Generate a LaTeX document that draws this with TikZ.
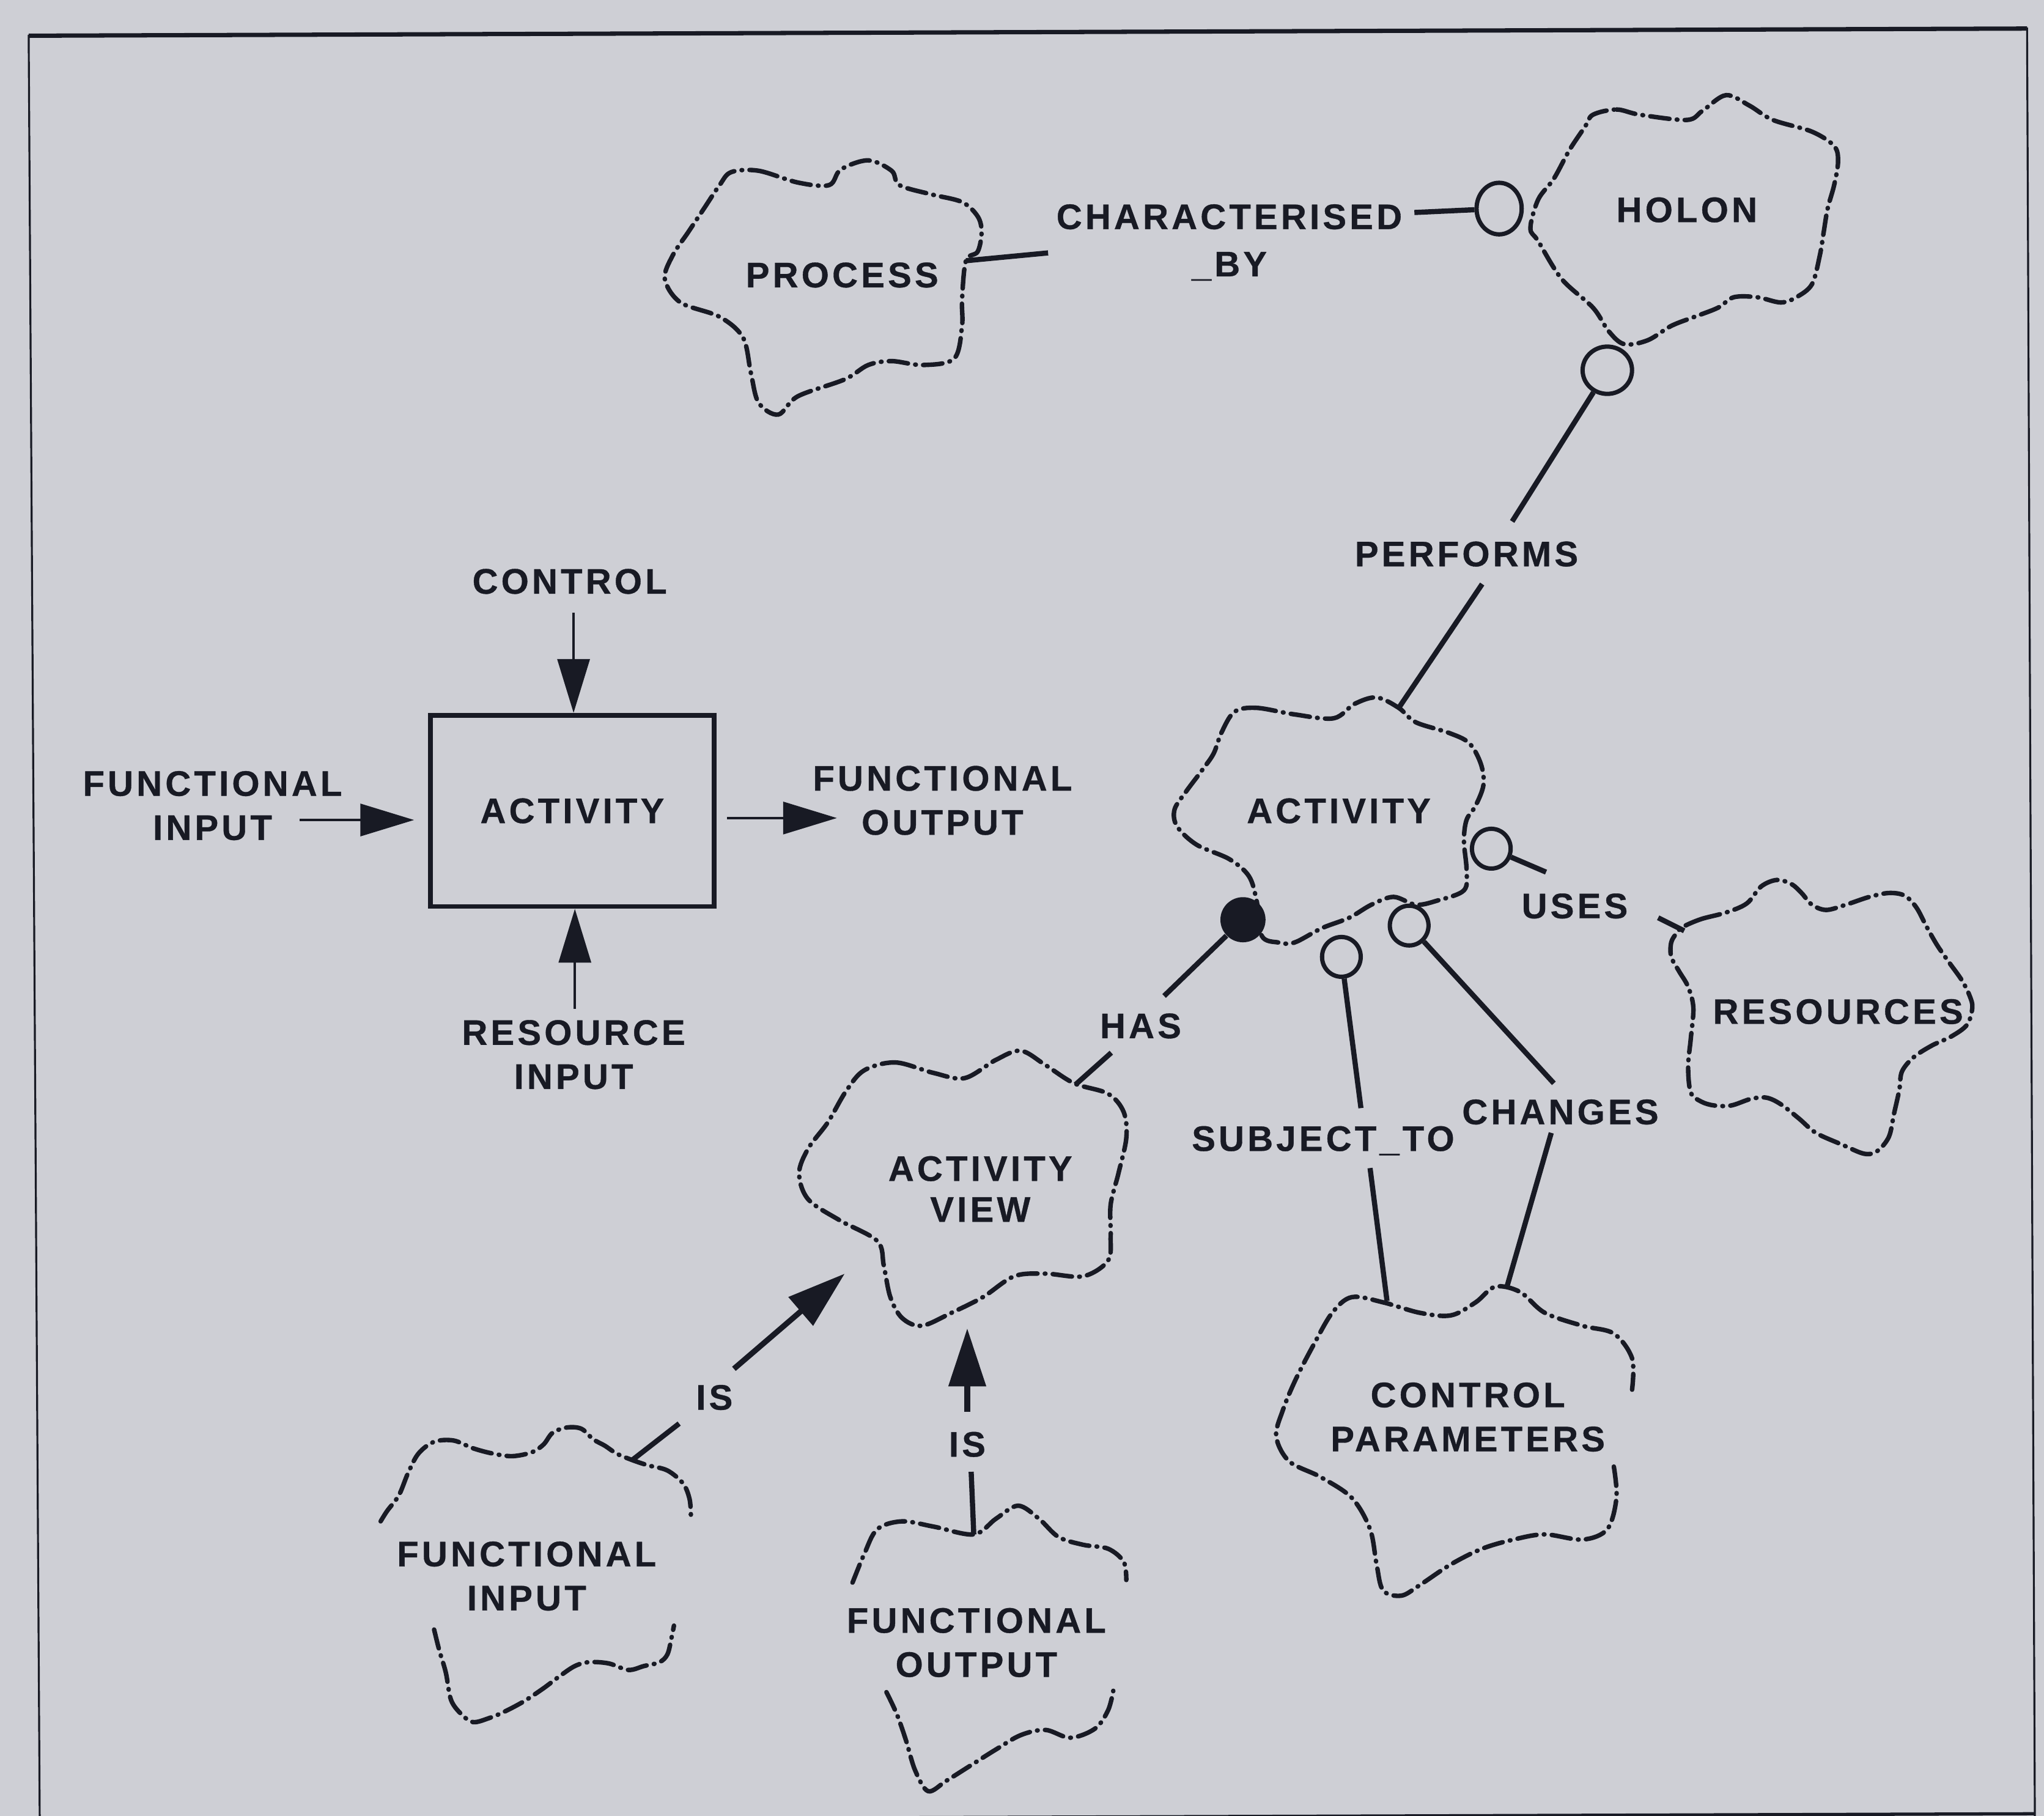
\documentclass[tikz,border=0pt]{standalone}
\usepackage{fontspec}
\setmainfont{Liberation Sans}[LetterSpace=9, BoldFeatures={FakeBold=0.6}]
\usetikzlibrary{arrows.meta,shapes.geometric}
\definecolor{paper}{RGB}{206,207,213}
\definecolor{ink}{RGB}{24,26,36}

\begin{document}
\begin{tikzpicture}[x=0.02132cm,y=-0.02132cm,
  lbl/.style={font=\fontsize{16.5}{20.5}\selectfont\bfseries, text=ink, inner sep=1pt, align=center},
  cloudline/.style={draw=ink, line width=2.1pt, dash pattern=on 9pt off 3.4pt on 0.3pt off 3.4pt, line cap=round, line join=round},
  rel/.style={draw=ink, line width=2.4pt},
  opencirc/.style={ellipse, draw=ink, line width=2pt, inner sep=0pt, fill=paper},
  smallcirc/.style={opencirc, minimum width=18pt, minimum height=18.5pt},
  blackdot/.style={circle, fill=ink, inner sep=0pt, minimum size=21pt},
  idefarrow/.style={draw=ink, line width=1.1pt, -{Triangle[length=25pt,width=15pt]}},
  isarrow/.style={draw=ink, line width=2.6pt, -{Triangle[length=27pt,width=17pt]}},
  idefbox/.style={draw=ink, line width=2.2pt, minimum width=132pt, minimum height=89pt, inner sep=0pt}
]
% page and frame
\fill[paper] (0,0) rectangle (1568,1393);
\useasboundingbox (0,0) rectangle (1568,1393);
\draw[ink, line width=0.9pt] (30.5,1400) -- (22,27.4) -- (1555,21.9) -- (1561,1400);
\draw[ink, line width=2pt] (22,27.4) -- (1555,21.9);
\draw[ink, line width=1.5pt] (30.5,1396.6) -- (1561,1391.3);

% ---------- IDEF0 activity box ----------
\node[idefbox, lbl] (box) at (439,622) {ACTIVITY};
\node[lbl] (ctrl) at (437,446) {CONTROL};
\node[lbl] (fin) at (163,618) {FUNCTIONAL\\INPUT};
\node[lbl] (fout) at (723,614) {FUNCTIONAL\\OUTPUT};
\node[lbl] (rin) at (440,809) {RESOURCE\\INPUT};
\coordinate (ctrlS) at (440,470);
\coordinate (finE) at (230,629);
\coordinate (foutW) at (642,627.5);
\coordinate (rinN) at (441,774);
\draw[idefarrow] (ctrlS) -- (box.north -| ctrlS);
\draw[idefarrow] (rinN) -- (box.south -| rinN);
\draw[idefarrow, shorten >=6.5pt] (finE) -- (box.west |- finE);
\draw[idefarrow, shorten <=5pt] (box.east |- foutW) -- (foutW);

% ---------- entity outlines ----------
% process
\draw[cloudline] plot[smooth cycle, tension=0.55] coordinates {
 (561,132) (582,131) (612,140) (636,142) (645,130) (666,123) (684,131) (690,142)
 (714,149) (738,155) (750,166) (753,178) (750,193) (741,200) (738,230) (738,250)
 (732,275) (708,280) (684,277) (666,280) (648,291) (612,304) (597,318) (582,309)
 (576,286) (570,259) (552,243) (522,232) (510,214) (516,196) (528,178) (540,160) (552,142)};
\node[lbl] (process) at (646,211) {PROCESS};

% holon
\draw[cloudline] plot[smooth cycle, tension=0.55] coordinates {
 (1222,88) (1240,84) (1258,88) (1294,92) (1306,85) (1324,73) (1342,81) (1360,92)
 (1390,101) (1407,112) (1410,124) (1407,142) (1402,160) (1399,178) (1396,196)
 (1390,218) (1378,228) (1366,232) (1348,228) (1330,228) (1318,236) (1300,243)
 (1282,250) (1264,261) (1246,264) (1234,254) (1222,236) (1198,214) (1180,185)
 (1174,175) (1180,153) (1192,137) (1204,115) (1216,97)};
\node[lbl] (holon) at (1294,161) {HOLON};

% activity
\draw[cloudline] plot[smooth cycle, tension=0.55] coordinates {
 (947,546) (964,543) (993,548) (1023,551) (1039,540) (1056,535) (1073,543) (1086,554)
 (1111,562) (1127,570) (1136,586) (1138,602) (1132,618) (1125,629) (1123,645)
 (1125,667) (1123,683) (1102,691) (1086,694) (1069,688) (1052,694) (1035,704)
 (1014,712) (993,723) (981,723) (968,718) (964,691) (958,672) (943,659) (918,648)
 (903,634) (901,621) (910,607) (922,591) (931,578) (937,562)};
\node[lbl] (activity) at (1027,622) {ACTIVITY};

% resources
\draw[cloudline] plot[smooth cycle, tension=0.55] coordinates {
 (1291,711) (1305,705) (1324,700) (1340,693) (1351,680) (1363,675) (1374,678)
 (1382,685) (1390,694) (1401,698) (1416,694) (1434,688) (1449,685) (1461,687)
 (1470,696) (1478,711) (1486,725) (1495,738) (1505,752) (1511,764) (1513,773)
 (1509,786) (1497,795) (1482,802) (1468,811) (1459,822) (1457,836) (1453,854)
 (1449,872) (1440,883) (1430,885) (1413,878) (1393,869) (1380,858) (1366,847)
 (1355,842) (1343,843) (1328,848) (1315,848) (1305,845) (1297,838) (1295,818)
 (1297,797) (1299,773) (1295,757) (1288,745) (1282,734) (1282,723) (1286,716)};
\node[lbl] (resources) at (1410,776) {RESOURCES};

% activity view
\draw[cloudline] plot[smooth cycle, tension=0.55] coordinates {
 (663,821) (687,815) (716,823) (740,827) (764,813) (783,806) (802,817) (824,831)
 (850,839) (862,853) (864,873) (858,900) (852,924) (852,948) (850,967) (831,979)
 (802,977) (778,979) (754,995) (730,1007) (707,1017) (692,1011) (683,995)
 (678,971) (673,952) (644,936) (620,920) (613,900) (620,881) (635,861) (649,837)};
\node[lbl, font=\fontsize{16.5}{19}\selectfont\bfseries] (actview) at (752,912) {ACTIVITY\\VIEW};

% control parameters (outline broken beside the text)
\draw[cloudline] plot[smooth, tension=0.55] coordinates {
 (1238,1125) (1240,1149) (1233,1173) (1214,1181) (1185,1177) (1161,1181) (1137,1188)
 (1113,1200) (1089,1216) (1075,1224) (1061,1220) (1056,1200) (1051,1173) (1037,1149)
 (1013,1133) (989,1121) (979,1102) (984,1082) (994,1058) (1008,1031) (1022,1007)
 (1037,995) (1061,999) (1089,1007) (1113,1009) (1132,999) (1147,987) (1166,991)
 (1185,1007) (1214,1017) (1238,1023) (1252,1042) (1252,1066)};
\node[lbl] (ctrlpar) at (1126,1087) {CONTROL\\PARAMETERS};

% functional input (open outline)
\draw[cloudline] plot[smooth, tension=0.55] coordinates {
 (292,1167) (297,1159) (306,1147) (313,1130) (321,1115) (333,1106) (348,1105)
 (363,1111) (378,1115) (393,1117) (408,1114) (417,1108) (424,1099) (435,1095)
 (446,1096) (455,1104) (464,1109) (473,1115) (485,1120) (497,1124) (512,1128)
 (524,1138) (529,1150) (530,1163)};
\draw[cloudline] plot[smooth, tension=0.55] coordinates {
 (333,1250) (337,1266) (342,1283) (346,1304) (354,1315) (363,1321) (375,1318)
 (387,1313) (402,1305) (417,1295) (429,1286) (441,1278) (452,1275) (467,1276)
 (482,1281) (494,1278) (506,1275) (512,1269) (515,1257) (517,1247)};
\node[lbl] (funcin) at (404,1209) {FUNCTIONAL\\INPUT};

% functional output (open outline)
\draw[cloudline] plot[smooth, tension=0.55] coordinates {
 (654,1214) (663,1192) (673,1173) (692,1167) (716,1171) (747,1177) (764,1165)
 (781,1155) (797,1165) (812,1179) (831,1185) (850,1188) (862,1198) (864,1212)};
\draw[cloudline] plot[smooth, tension=0.55] coordinates {
 (680,1298) (688,1315) (695,1335) (702,1358) (712,1374) (726,1366) (745,1354)
 (764,1342) (783,1331) (802,1327) (821,1333) (840,1326) (850,1312) (854,1297)};
\node[lbl] (funcout) at (749,1260) {FUNCTIONAL\\OUTPUT};

% ---------- relationship labels ----------
\node[lbl] (charby) at (943,186) {CHARACTERISED\\[1.5pt]\_BY};
\node[lbl] (performs) at (1125,425) {PERFORMS};
\node[lbl] (uses) at (1208,695) {USES};
\node[lbl] (has) at (875,787) {HAS};
\node[lbl] (subjto) at (1015,875) {SUBJECT\_TO};
\node[lbl] (changes) at (1197,853) {CHANGES};
\node[lbl] (isdiag) at (548,1072) {IS};
\node[lbl] (isvert) at (742,1108) {IS};

% ---------- connector end points ----------
\coordinate (procE) at (741,200);
\coordinate (charW) at (804,194);
\coordinate (charE) at (1085,163);
\coordinate (perfN) at (1160,400);
\coordinate (perfS) at (1137,448);
\coordinate (actN) at (1073,543);
\coordinate (usesW) at (1186,669);
\coordinate (usesE) at (1272,704);
\coordinate (resW) at (1292,714);
\coordinate (hasN) at (893,764);
\coordinate (hasS) at (852.5,807.5);
\coordinate (avN) at (825,832);
\coordinate (subjN) at (1044,850);
\coordinate (subjS) at (1051,896);
\coordinate (cpSubj) at (1064,998);
\coordinate (chgN) at (1192,831);
\coordinate (chgS) at (1190,869);
\coordinate (cpChg) at (1156,987);
\coordinate (fiTop) at (485,1120);
\coordinate (isDiagLow) at (521,1092);
\coordinate (isDiagUp) at (563,1050);
\coordinate (avSW) at (648,977);
\coordinate (foTop) at (747,1177);
\coordinate (isVertLow) at (745,1129);
\coordinate (isVertUp) at (742,1083);
\coordinate (avS) at (742,1019);

% ---------- relationship lines ----------
\draw[rel] (procE) -- (charW);
\draw[rel] (perfS) -- (actN);
\draw[rel] (usesE) -- (resW);
\draw[rel] (hasS) -- (avN);
\draw[rel] (subjS) -- (cpSubj);
\draw[rel] (chgS) -- (cpChg);
\draw[rel] (fiTop) -- (isDiagLow);
\draw[rel] (foTop) -- (isVertLow);
\draw[isarrow] (isDiagUp) -- (avSW);
\draw[isarrow] (isVertUp) -- (avS);

% cardinality circles
\node[opencirc, minimum width=21pt, minimum height=24pt] (cHolonL) at (1150,160) {};
\node[opencirc, minimum width=23pt, minimum height=22pt] (cHolonB) at (1233,284) {};
\node[smallcirc] (cUses) at (1144,651) {};
\node[smallcirc] (cSubj) at (1029,734) {};
\node[smallcirc] (cChg) at (1081,710) {};
\node[blackdot] (dHas) at (953.5,705.5) {};

\draw[rel] (charE) -- (cHolonL);
\draw[rel] (cHolonB) -- (perfN);
\draw[rel] (cUses) -- (usesW);
\draw[rel] (dHas) -- (hasN);
\draw[rel] (cSubj) -- (subjN);
\draw[rel] (cChg) -- (chgN);
\end{tikzpicture}
\end{document}
